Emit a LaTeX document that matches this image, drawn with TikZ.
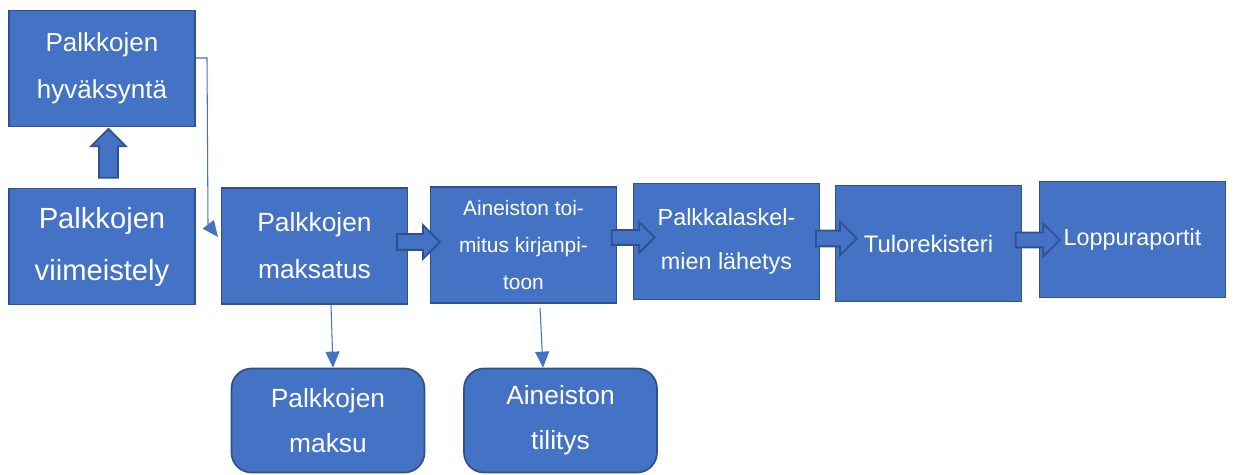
\documentclass[tikz,border=0pt]{standalone}
\usepackage{fontspec}
\setmainfont{Liberation Sans}
\usetikzlibrary{arrows.meta,shapes.arrows}
\definecolor{boxfill}{HTML}{4472C4}
\definecolor{boxline}{HTML}{2F528F}

\begin{document}
\begin{tikzpicture}[x=0.02cm, y=-0.02cm,
  box/.style={draw=boxline, fill=boxfill, line width=1pt, text=white, align=center,
    inner sep=0pt, minimum width=3.72cm, minimum height=2.32cm},
  rbox/.style={box, rounded corners=0.4cm, minimum width=3.86cm, minimum height=2.08cm},
  blk/.style={single arrow, draw=boxline, fill=boxfill, line width=1pt, inner xsep=0pt,
    inner ysep=0.14cm, single arrow head extend=0.18cm},
  conn/.style={-{Triangle[length=0.32cm, width=0.28cm]}, draw=boxfill, line width=0.6pt}]
  \useasboundingbox (0,0) rectangle (1233,475);
  % main boxes
  \node[box, font=\fontsize{14.8}{26.7}\selectfont] (hyv) at (102,68.5) {Palkkojen\\hyväksyntä};
  \node[box, font=\fontsize{16.6}{29.6}\selectfont] (viim) at (102,246.5) {Palkkojen\\viimeistely};
  \node[box, font=\fontsize{15}{26.7}\selectfont] (maks) at (314.5,246) {Palkkojen\\maksatus};
  \node[box, font=\fontsize{11.9}{20.8}\selectfont] (toim) at (523.5,245) {Aineiston toi-\\mitus kirjanpi-\\toon};
  \node[box, font=\fontsize{13.3}{25}\selectfont] (lah) at (726.5,241.5) {Palkkalaskel-\\mien lähetys};
  \node[box, font=\fontsize{13.6}{25}\selectfont] (tulo) at (928.5,243.5) {Tulorekisteri};
  \node[box, font=\fontsize{13.3}{25}\selectfont] (loppu) at (1132.5,239.5) {Loppuraportit};
  % rounded boxes below
  \node[rbox, font=\fontsize{15}{25.6}\selectfont] (maksu) at (328,420.5) {Palkkojen\\maksu};
  \node[rbox, font=\fontsize{15}{25.6}\selectfont] (tilitys) at (560.5,420.5) {Aineiston\\tilitys};
  % block arrows
  \node[blk, rotate=90, minimum height=0.98cm, inner ysep=0.17cm, single arrow head extend=0.16cm] (a1) at (108.5,158) {};
  \node[blk, minimum height=0.86cm] (a2) at (414.5,242) {};
  \node[blk, minimum height=0.86cm, inner ysep=0.13cm, single arrow head extend=0.16cm] (a3) at (629.5,237.5) {};
  \node[blk, minimum height=0.82cm] (a4) at (832.5,238.5) {};
  \node[blk, minimum height=0.88cm, inner ysep=0.13cm] (a5) at (1034,240) {};
  % thin connectors
  \coordinate (c1) at (207,58);
  \coordinate (c2) at (218,237);
  \draw[conn] (c1 -| hyv.east) -- (c1) -- ++(1,166) -- (c2);
  \draw[conn] ([xshift=0.33cm]maks.south) -- ([xshift=0.1cm]maksu.north);
  \draw[conn] ([xshift=0.33cm, yshift=-0.08cm]toim.south) -- ([xshift=-0.35cm]tilitys.north);
\end{tikzpicture}
\end{document}
